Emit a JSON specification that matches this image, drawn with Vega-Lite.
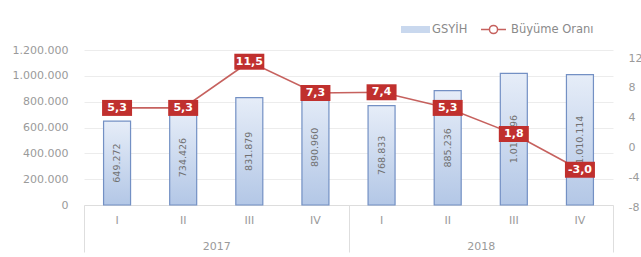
{
  "$schema": "https://vega.github.io/schema/vega-lite/v6.json",
  "width": 529,
  "height": 155,
  "autosize": {"type": "none"},
  "padding": {"left": 84, "top": 50, "right": 28, "bottom": 52},
  "background": "white",
  "config": {
    "locale": {"number": {"decimal": ",", "thousands": ".", "grouping": [3], "currency": ["", " TL"], "minus": "-"}},
    "font": "DejaVu Sans",
    "view": {"stroke": null},
    "axis": {"labelFont": "DejaVu Sans", "labelColor": "#9a9a9a", "labelFontSize": 11, "title": null},
    "legend": {"labelFont": "DejaVu Sans"}
  },
  "data": {
    "values": [
      {"year": "2017", "key": "2017-I", "gdp": 649272, "growth": 5.3},
      {"year": "2017", "key": "2017-II", "gdp": 734426, "growth": 5.3},
      {"year": "2017", "key": "2017-III", "gdp": 831879, "growth": 11.5},
      {"year": "2017", "key": "2017-IV", "gdp": 890960, "growth": 7.3},
      {"year": "2018", "key": "2018-I", "gdp": 768833, "growth": 7.4},
      {"year": "2018", "key": "2018-II", "gdp": 885236, "growth": 5.3},
      {"year": "2018", "key": "2018-III", "gdp": 1019596, "growth": 1.8},
      {"year": "2018", "key": "2018-IV", "gdp": 1010114, "growth": -3.0}
    ]
  },
  "layer": [
    {
      "mark": {
        "type": "bar",
        "size": 27,
        "fill": {"gradient": "linear", "x1": 0, "y1": 0, "x2": 0, "y2": 1, "stops": [{"offset": 0, "color": "#e6edf8"}, {"offset": 1, "color": "#b3c7e6"}]},
        "stroke": "#7390c4",
        "strokeWidth": 1.2
      },
      "encoding": {
        "x": {
          "field": "key", "type": "nominal", "sort": null,
          "scale": {"paddingInner": 0, "paddingOuter": 0},
          "axis": {"orient": "bottom", "labelAngle": 0, "labelExpr": "split(datum.value, '-')[1]", "ticks": false, "domain": true, "domainColor": "#dddddd", "labelPadding": 9}
        },
        "y": {
          "field": "gdp", "type": "quantitative",
          "scale": {"domain": [0, 1200000], "nice": false},
          "axis": {"orient": "left", "values": [0, 200000, 400000, 600000, 800000, 1000000, 1200000], "format": ",d", "grid": true, "gridColor": "#ececec", "domain": false, "ticks": false, "labelPadding": 16}
        }
      }
    },
    {
      "mark": {"type": "text", "angle": 270, "color": "#707070", "fontSize": 9.5, "baseline": "middle", "align": "center"},
      "encoding": {
        "x": {"field": "key", "type": "nominal", "sort": null, "axis": null},
        "y": {"field": "gdp", "type": "quantitative", "scale": {"domain": [0, 2400000], "nice": false}, "axis": null},
        "text": {"field": "gdp", "type": "quantitative", "format": ",d"}
      }
    },
    {
      "transform": [{"filter": "false"}],
      "mark": {"type": "point", "filled": false, "fill": "#c9d8ee", "stroke": "#6e8cc4", "strokeWidth": 1.5, "opacity": 1},
      "encoding": {
        "x": {"field": "key", "type": "nominal", "sort": null, "axis": null},
        "y": {"field": "gdp", "type": "quantitative", "axis": null},
        "shape": {
          "datum": "GSYİH", "type": "nominal",
          "scale": {"domain": ["GSYİH"], "range": ["M-1,-0.24H1V0.24H-1Z"]},
          "legend": {
            "title": null, "orient": "none", "direction": "horizontal", "legendX": 316, "legendY": -36,
            "padding": 0, "symbolSize": 841, "labelFontSize": 11.5, "labelColor": "#8a8a8a", "labelOffset": 1,
            "symbolFillColor": "#c9d8ee", "symbolStrokeColor": "#6e8cc4", "symbolStrokeWidth": 1.5, "symbolOpacity": 1
          }
        }
      }
    },
    {
      "mark": {"type": "line", "strokeWidth": 1.6, "opacity": 0.9},
      "encoding": {
        "x": {"field": "key", "type": "nominal", "sort": null, "axis": null},
        "y": {
          "field": "growth", "type": "quantitative",
          "scale": {"domain": [-8, 12], "range": [157, 8], "nice": false, "zero": false},
          "axis": {"orient": "right", "values": [-8, -4, 0, 4, 8, 12], "format": "d", "grid": false, "domain": false, "ticks": false, "labelPadding": 15}
        },
        "color": {
          "datum": "Büyüme Oranı", "type": "nominal",
          "scale": {"domain": ["Büyüme Oranı"], "range": ["#c0504d"]},
          "legend": {
            "title": null, "orient": "none", "direction": "horizontal", "legendX": 394, "legendY": -36,
            "padding": 0, "symbolSize": 841, "labelFontSize": 11.5, "labelColor": "#8a8a8a", "labelOffset": 2,
            "symbolType": "M-0.86,0H-0.28M0.28,0H0.86M0.28,0A0.28,0.28 0 1,1 -0.28,0A0.28,0.28 0 1,1 0.28,0",
            "symbolStrokeWidth": 1.5, "symbolFillColor": "#ffffff"
          }
        }
      }
    },
    {
      "mark": {"type": "point", "filled": true, "shape": "M-1,-0.533H1V0.533H-1Z", "size": 900, "color": "#c0302e", "opacity": 1},
      "encoding": {
        "x": {"field": "key", "type": "nominal", "sort": null, "axis": null},
        "y": {"field": "growth", "type": "quantitative", "scale": {"domain": [-8, 12], "range": [157, 8], "nice": false, "zero": false}, "axis": null}
      }
    },
    {
      "mark": {"type": "text", "color": "white", "fontSize": 11, "fontWeight": "bold", "baseline": "middle", "align": "center"},
      "encoding": {
        "x": {"field": "key", "type": "nominal", "sort": null, "axis": null},
        "y": {"field": "growth", "type": "quantitative", "scale": {"domain": [-8, 12], "range": [157, 8], "nice": false, "zero": false}, "axis": null},
        "text": {"field": "growth", "type": "quantitative", "format": ".1f"}
      }
    },
    {
      "mark": {"type": "rule", "opacity": 0},
      "encoding": {
        "x": {
          "field": "year", "type": "nominal",
          "scale": {"type": "band", "paddingInner": 0, "paddingOuter": 0},
          "axis": {"orient": "bottom", "labelAngle": 0, "domain": false, "ticks": true, "tickBand": "extent", "tickSize": 47, "tickColor": "#dedede", "labelPadding": -12, "labelFontSize": 11}
        }
      }
    }
  ],
  "resolve": {"scale": {"x": "independent", "y": "independent"}}
}
